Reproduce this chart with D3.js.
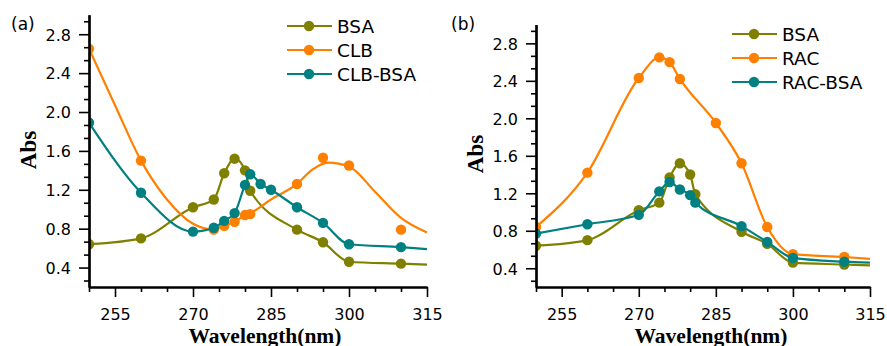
<!DOCTYPE html>
<html>
<head>
<meta charset="utf-8">
<script src="https://cdn.jsdelivr.net/npm/d3@7"></script>
<style>
  body { margin: 0; background: #fff; }
  svg text { font-family: "DejaVu Sans", sans-serif; fill: #000; }
  .title { font-family: "Liberation Serif", "Times New Roman", serif; font-weight: bold; }
</style>
</head>
<body>
<div id="chart"></div>
<script>
// ---- data (wavelength in nm, absorbance) ----
const wlBSA  = [250, 260, 270, 274, 276, 278, 280, 281, 290, 295, 300, 310];
const absBSA = [0.64, 0.70, 1.02, 1.10, 1.37, 1.52, 1.40, 1.19, 0.79, 0.66, 0.46, 0.44];
const endBSA = 0.43;   // where the BSA curve leaves the frame at 315 nm

// panel (a)
const wlCLB  = [250, 260, 274, 276, 278, 280, 281, 290, 295, 300, 310];
const absCLB = [2.65, 1.50, 0.79, 0.83, 0.87, 0.94, 0.95, 1.26, 1.53, 1.45, 0.79];
// the CLB curve is a smoothed fit, it misses some of the points
const curveWlCLB  = [250, 255, 260, 265, 270, 274, 276, 278, 280, 281, 285, 290, 293, 296, 300, 305, 310, 315];
const curveAbsCLB = [2.65, 2.07, 1.50, 1.10, 0.85, 0.79, 0.83, 0.87, 0.94, 0.96, 1.10, 1.26, 1.41, 1.48, 1.44, 1.18, 0.91, 0.76];

const wlCLBBSA  = [250, 260, 270, 274, 276, 278, 280, 281, 283, 285, 290, 295, 300, 310];
const absCLBBSA = [1.89, 1.17, 0.77, 0.81, 0.88, 0.96, 1.25, 1.36, 1.26, 1.20, 1.02, 0.86, 0.64, 0.61];
const endCLBBSA = 0.59;

// panel (b)
const wlRAC  = [250, 260, 270, 274, 276, 278, 285, 290, 295, 300, 310];
const absRAC = [0.84, 1.42, 2.43, 2.65, 2.60, 2.42, 1.95, 1.52, 0.84, 0.55, 0.52];
const endRAC = 0.50;

const wlRACBSA  = [250, 260, 270, 274, 276, 278, 280, 281, 290, 295, 300, 310];
const absRACBSA = [0.77, 0.87, 0.97, 1.22, 1.32, 1.24, 1.18, 1.10, 0.85, 0.68, 0.51, 0.47];
const endRACBSA = 0.46;

// axes
const xMajor = [255, 270, 285, 300, 315];
const xMinor = [250, 260, 265, 275, 280, 290, 295, 305, 310];
const yMajor = [0.4, 0.8, 1.2, 1.6, 2.0, 2.4, 2.8];
const yMinor = [0.2667, 0.5333, 0.6667, 0.9333, 1.0667, 1.3333, 1.4667, 1.7333,
                1.8667, 2.1333, 2.2667, 2.5333, 2.6667, 2.9333];

const OLIVE = '#808000', ORANGE = '#ff8000', TEAL = '#008080';
const R = 5.2;

const svg = d3.select('#chart').append('svg')
  .attr('width', 887)
  .attr('height', 346);

function withEnd(wl, abs, end) {
  return d3.zip(wl.concat([315]), abs.concat([end]));
}

function drawPanel(p) {
  const x = d3.scaleLinear().domain([250, 315]).range(p.xr);
  const y = d3.scaleLinear().domain([0.2, 3.0]).range(p.yr);
  const g = svg.append('g');

  const clipId = 'clip-' + p.id;
  svg.append('clipPath').attr('id', clipId)
    .append('rect')
    .attr('x', p.xr[0] + 1).attr('y', 0)
    .attr('width', p.xr[1] - p.xr[0] + 10).attr('height', p.yr[0]);

  const plot = g.append('g').attr('clip-path', 'url(#' + clipId + ')');
  const line = d3.line()
    .x(d => x(d[0]))
    .y(d => y(d[1]))
    .curve(d3.curveMonotoneX);

  p.series.forEach(s => {
    plot.append('path')
      .datum(s.line)
      .attr('fill', 'none')
      .attr('stroke', s.color)
      .attr('stroke-width', 2.2)
      .attr('d', line);
    plot.selectAll(null)
      .data(d3.zip(s.wl, s.abs))
      .join('circle')
      .attr('cx', d => x(d[0]))
      .attr('cy', d => y(d[1]))
      .attr('r', R)
      .attr('fill', s.color);
  });

  // axes: minor ticks first, then major ticks with labels
  const bottom = p.yr[0];
  g.append('g').attr('class', 'ax')
    .attr('transform', 'translate(0,' + bottom + ')')
    .call(d3.axisBottom(x).tickValues(xMinor).tickSize(5).tickSizeOuter(0).tickFormat(''));
  const xa = g.append('g').attr('class', 'ax')
    .attr('transform', 'translate(0,' + bottom + ')')
    .call(d3.axisBottom(x).tickValues(xMajor).tickSize(10).tickSizeOuter(0).tickFormat(d3.format('d')));
  xa.selectAll('text').attr('dy', null).attr('y', 33).style('font-size', '16px');

  g.append('g').attr('class', 'ax')
    .attr('transform', 'translate(' + p.xr[0] + ',0)')
    .call(d3.axisLeft(y).tickValues(yMinor).tickSize(5).tickSizeOuter(0).tickFormat(''));
  const ya = g.append('g').attr('class', 'ax')
    .attr('transform', 'translate(' + p.xr[0] + ',0)')
    .call(d3.axisLeft(y).tickValues(yMajor).tickSize(10).tickSizeOuter(0).tickFormat(d3.format('.1f')));
  ya.selectAll('text').attr('x', -18).attr('dy', '0.36em').style('font-size', '16px');

  g.selectAll('.ax .domain').attr('stroke', '#000').attr('stroke-width', 2.2);
  g.selectAll('.ax .tick line').attr('stroke', '#000').attr('stroke-width', 1.6);

  // titles
  g.append('text').attr('class', 'title')
    .attr('x', p.xTitleX).attr('y', 343)
    .attr('text-anchor', 'middle')
    .style('font-size', '21.5px')
    .text('Wavelength(nm)');
  g.append('text').attr('class', 'title')
    .attr('transform', 'translate(' + p.yTitle[0] + ',' + p.yTitle[1] + ') rotate(-90)')
    .attr('text-anchor', 'middle')
    .style('font-size', '23px')
    .text('Abs');
  g.append('text')
    .attr('x', p.tag[0]).attr('y', p.tag[1])
    .style('font-size', '17px')
    .text(p.tagText);

  // legend
  p.series.forEach((s, i) => {
    const ly = p.legend.y + i * 24;
    g.append('line')
      .attr('x1', p.legend.x).attr('x2', p.legend.x + 45)
      .attr('y1', ly).attr('y2', ly)
      .attr('stroke', s.color).attr('stroke-width', 2.2);
    g.append('circle')
      .attr('cx', p.legend.x + 22).attr('cy', ly).attr('r', R)
      .attr('fill', s.color);
    g.append('text')
      .attr('x', p.legend.x + 50).attr('y', ly).attr('dy', '0.36em')
      .style('font-size', '18.5px')
      .text(s.name);
  });
}

drawPanel({
  id: 'a',
  xr: [89, 427], yr: [287, 14.8],
  xTitleX: 265, yTitle: [36, 150],
  tag: [11, 30], tagText: '(a)',
  legend: { x: 287, y: 26 },
  series: [
    { name: 'BSA', color: OLIVE, wl: wlBSA, abs: absBSA, line: withEnd(wlBSA, absBSA, endBSA) },
    { name: 'CLB', color: ORANGE, wl: wlCLB, abs: absCLB, line: d3.zip(curveWlCLB, curveAbsCLB) },
    { name: 'CLB-BSA', color: TEAL, wl: wlCLBBSA, abs: absCLBBSA, line: withEnd(wlCLBBSA, absCLBBSA, endCLBBSA) }
  ]
});

drawPanel({
  id: 'b',
  xr: [536, 870], yr: [287, 24.6],
  xTitleX: 711, yTitle: [483, 154],
  tag: [451, 30], tagText: '(b)',
  legend: { x: 732, y: 34 },
  series: [
    { name: 'BSA', color: OLIVE, wl: wlBSA, abs: absBSA, line: withEnd(wlBSA, absBSA, endBSA) },
    { name: 'RAC', color: ORANGE, wl: wlRAC, abs: absRAC, line: withEnd(wlRAC, absRAC, endRAC) },
    { name: 'RAC-BSA', color: TEAL, wl: wlRACBSA, abs: absRACBSA, line: withEnd(wlRACBSA, absRACBSA, endRACBSA) }
  ]
});
</script>
</body>
</html>
